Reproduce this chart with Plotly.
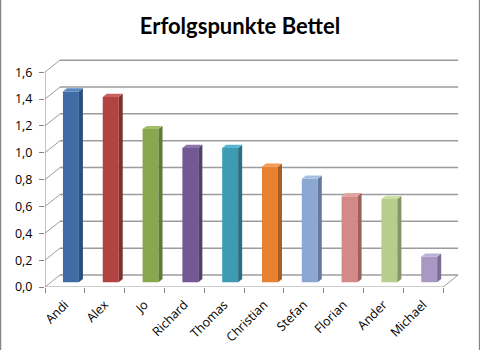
import plotly.graph_objects as go

# --- data ---------------------------------------------------------------
names = ["Andi", "Alex", "Jo", "Richard", "Thomas", "Christian",
         "Stefan", "Florian", "Ander", "Michael"]
punkte = [1.42, 1.38, 1.14, 1.00, 1.00, 0.86, 0.77, 0.64, 0.62, 0.19]
y_ticks = [0.0, 0.2, 0.4, 0.6, 0.8, 1.0, 1.2, 1.4, 1.6]

# face colours per column: front, side, top
front_cols = ["#3F6CA6", "#B24341", "#89A84E", "#725993", "#3D9CB4", "#E8812F",
              "#8BA7D2", "#D28987", "#B7CD8C", "#A898C3"]
side_cols = ["#2C4E7C", "#7F2F2E", "#627A37", "#51406B", "#2B7082", "#A95D22",
             "#66799A", "#9A6160", "#849567", "#7A6E90"]
top_cols = ["#5A86BE", "#C9615F", "#A2BF69", "#8C74AC", "#5AB6CC", "#F59A52",
            "#A6BFE2", "#E4A3A1", "#CCE0A6", "#BFB1D6"]

# --- geometry of the oblique view (in axis units) -------------------------
PX_X = 39.8          # pixels per category
PX_Y = 134.4         # pixels per value unit
DX = 15 / PX_X       # floor depth, horizontal
DY = 12 / PX_Y       # floor depth, vertical
F0, F1 = 0.40, 0.67  # depth fraction of column front / back
BW = 0.40            # column width (categories)
N = len(names)

X_MAX = 10.5
Y_MAX = 1.75
L, B = 45, 63
W, H = X_MAX * PX_X, Y_MAX * PX_Y
R = 480 - L - W
T = 350 - B - H

GRID = "#9C9C9C"
AXIS = "#868686"


def seg(x0, y0, x1, y1, color, width):
    return dict(type="line", xref="x", yref="y", x0=x0, y0=y0, x1=x1, y1=y1,
                line=dict(color=color, width=width), layer="below")


shapes = []
# back wall gridlines and side-wall edges
for v in y_ticks:
    shapes.append(seg(DX, v + DY, N + DX, v + DY, GRID, 1.5))
    shapes.append(seg(0, v, DX, v + DY, GRID, 1))
# floor outline and front value axis
shapes.append(seg(0, 0, N, 0, GRID, 1))
shapes.append(seg(N, 0, N + DX, DY, GRID, 1))
shapes.append(seg(0, 0, 0, y_ticks[-1], AXIS, 1))
# chart frame
shapes.append(dict(type="rect", xref="paper", yref="paper",
                   x0=(0.5 - L) / W, x1=(479.5 - L) / W,
                   y0=(B - 349.5) / H, y1=(B + H - 0.5 + T) / H,
                   line=dict(color=AXIS, width=1.5), layer="below"))

fig = go.Figure()

# columns: front face as bars, side and top faces as filled polygons
fdx, fdy = F0 * DX, F0 * DY
bdx, bdy = (F1 - F0) * DX, (F1 - F0) * DY
centers = [i + 0.5 + fdx for i in range(N)]
fig.add_trace(go.Bar(x=centers, y=punkte, base=[fdy] * N, width=BW,
                     marker=dict(color=front_cols, line=dict(width=0)),
                     showlegend=False, hovertext=names))
for i, v in enumerate(punkte):
    xl, xr = centers[i] - BW / 2, centers[i] + BW / 2
    top = fdy + v
    fig.add_trace(go.Scatter(x=[xr, xr + bdx, xr + bdx, xr, xr],
                             y=[fdy, fdy + bdy, top + bdy, top, fdy],
                             mode="lines", fill="toself", fillcolor=side_cols[i],
                             line=dict(width=0, color=side_cols[i]),
                             hoverinfo="skip", showlegend=False))
    fig.add_trace(go.Scatter(x=[xl, xr, xr + bdx, xl + bdx, xl],
                             y=[top, top, top + bdy, top + bdy, top],
                             mode="lines", fill="toself", fillcolor=top_cols[i],
                             line=dict(width=0, color=top_cols[i]),
                             hoverinfo="skip", showlegend=False))

# category labels on a second x axis sharing the range
fig.add_trace(go.Scatter(x=[0.5], y=[0], xaxis="x2", mode="markers",
                         marker=dict(opacity=0), hoverinfo="skip",
                         showlegend=False))

FONT = "Open Sans"
fig.update_layout(
    width=480, height=350,
    margin=dict(l=L, r=R, t=T, b=B, autoexpand=False),
    paper_bgcolor="white", plot_bgcolor="white",
    separators=",.",
    title=dict(text="<b>Erfolgspunkte Bettel</b>", x=0.5, xref="container",
               xanchor="center", y=1 - 26 / 350, yanchor="middle",
               font=dict(family="Lato", size=22, color="black")),
    barmode="overlay",
    xaxis=dict(range=[0, X_MAX], tickvals=list(range(N + 1)), ticks="outside",
               ticklen=5, tickcolor=AXIS, showticklabels=False, automargin=False,
               showgrid=False, zeroline=False, showline=False, fixedrange=True),
    xaxis2=dict(range=[0, X_MAX], overlaying="x", side="bottom",
                tickvals=[i + 0.5 for i in range(N)], ticktext=names,
                tickangle=-45, ticks="", showgrid=False, zeroline=False,
                showline=False, ticklabelstandoff=7, automargin=False,
                tickfont=dict(family=FONT, size=12.5, color="black")),
    yaxis=dict(range=[0, Y_MAX], tickvals=y_ticks, tickformat=".1f",
               ticks="outside", ticklen=5, tickcolor=AXIS, automargin=False,
               showgrid=False, zeroline=False, showline=False,
               ticklabelstandoff=4,
               tickfont=dict(family=FONT, size=12.5, color="black")),
    shapes=shapes,
)

fig.write_html("out.html")
